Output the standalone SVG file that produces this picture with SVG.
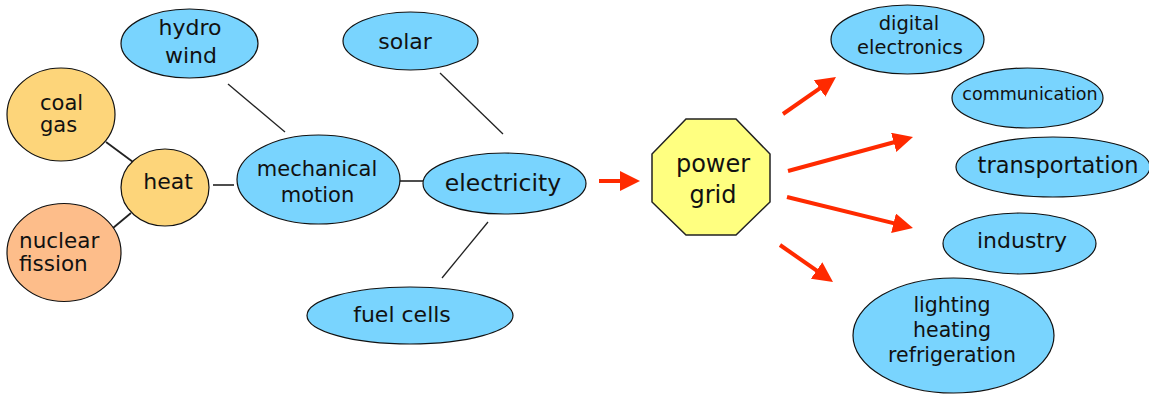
<svg xmlns="http://www.w3.org/2000/svg" width="1149" height="394" viewBox="0 0 1149 394">
<style>
.b{fill:#79d4fe;stroke:#111;stroke-width:1.2}
.y{fill:#fdd57a;stroke:#111;stroke-width:1.2}
.o{fill:#fdbd8a;stroke:#111;stroke-width:1.2}
.g{fill:#ffff80;stroke:#222;stroke-width:1.5}
text{font-family:"DejaVu Sans","Open Sans",sans-serif;font-size:22px;fill:#111;text-anchor:middle}
.l{text-anchor:start}
.k{stroke:#222;stroke-width:1.3;fill:none}
.r{stroke:#ff2a00;stroke-width:4;fill:none;marker-end:url(#ah)}
</style>
<defs>
<marker id="ah" markerUnits="userSpaceOnUse" markerWidth="20" markerHeight="20" refX="5" refY="10" orient="auto" viewBox="0 0 20 20">
<path d="M0,0 L20,10 L0,20 z" fill="#ff2a00"/>
</marker>
</defs>
<g id="connectors">
<line class="k" x1="228" y1="84" x2="285" y2="132"/>
<line class="k" x1="106" y1="142" x2="133" y2="162" style="stroke-width:1.8"/>
<line class="k" x1="113" y1="228" x2="131" y2="213" style="stroke-width:1.8"/>
<line class="k" x1="213" y1="185" x2="234" y2="185" style="stroke-width:1.6"/>
<line class="k" x1="400" y1="181" x2="423" y2="181" style="stroke-width:1.6"/>
<line class="k" x1="440" y1="73" x2="503" y2="134"/>
<line class="k" x1="488" y1="222" x2="442" y2="278"/>
<line class="r" x1="599" y1="181" x2="625" y2="181"/>
<line class="r" x1="783" y1="114" x2="823.7" y2="85.6"/>
<line class="r" x1="788" y1="171" x2="898.5" y2="141"/>
<line class="r" x1="787" y1="197" x2="898.4" y2="224.4"/>
<line class="r" x1="780" y1="245" x2="820.7" y2="273.4"/>
</g>
<g id="hydro-wind"><ellipse class="b" cx="189.5" cy="43.5" rx="68.5" ry="34.5"/><text x="190" y="35">hydro</text><text x="191" y="63">wind</text></g>
<g id="coal-gas"><ellipse class="y" cx="61" cy="114.5" rx="54" ry="46.5"/><text class="l" x="40" y="110" style="font-size:21px">coal</text><text class="l" x="40" y="132" style="font-size:21px">gas</text></g>
<g id="heat"><ellipse class="y" cx="165" cy="187.5" rx="44" ry="38.5"/><text x="168" y="189">heat</text></g>
<g id="nuclear-fission"><ellipse class="o" cx="64" cy="252.5" rx="57" ry="49"/><text class="l" x="19" y="248" style="font-size:21.5px">nuclear</text><text class="l" x="19" y="271" style="font-size:21.5px">fission</text></g>
<g id="mechanical-motion"><ellipse class="b" cx="318.5" cy="179.5" rx="81.5" ry="44.5"/><text x="317" y="176" style="font-size:21px">mechanical</text><text x="317.5" y="202" style="font-size:21px">motion</text></g>
<g id="solar"><ellipse class="b" cx="410.5" cy="41" rx="67.5" ry="29"/><text x="405" y="49">solar</text></g>
<g id="electricity"><ellipse class="b" cx="504.5" cy="183.5" rx="81.5" ry="30.5"/><text x="503" y="191" style="font-size:23.5px">electricity</text></g>
<g id="fuel-cells"><ellipse class="b" cx="410" cy="315.5" rx="103" ry="28.5"/><text x="402" y="322">fuel cells</text></g>
<g id="power-grid"><polygon class="g" points="686,119 736,119 770,154 770,202 736,235 686,235 652,202 652,154"/><text x="713" y="172" style="font-size:24px">power</text><text x="713" y="203" style="font-size:24px">grid</text></g>
<g id="digital-electronics"><ellipse class="b" cx="907.5" cy="39.5" rx="76.5" ry="34.5"/><text x="909" y="30" style="font-size:19.5px">digital</text><text x="910" y="54" style="font-size:19.5px">electronics</text></g>
<g id="communication"><ellipse class="b" cx="1027.5" cy="98" rx="75.5" ry="30"/><text x="1030" y="100" style="font-size:17.5px">communication</text></g>
<g id="transportation"><ellipse class="b" cx="1053" cy="167" rx="97" ry="30"/><text x="1058" y="173" style="font-size:22.5px">transportation</text></g>
<g id="industry"><ellipse class="b" cx="1019.5" cy="243.5" rx="76.5" ry="30.5"/><text x="1022" y="248" style="font-size:22px">industry</text></g>
<g id="lighting-heating-refrigeration"><ellipse class="b" cx="953.5" cy="335.5" rx="100.5" ry="57.5"/><text x="952" y="312" style="font-size:20.5px">lighting</text><text x="952" y="337" style="font-size:20.5px">heating</text><text x="952" y="362" style="font-size:20.5px">refrigeration</text></g>
</svg>
